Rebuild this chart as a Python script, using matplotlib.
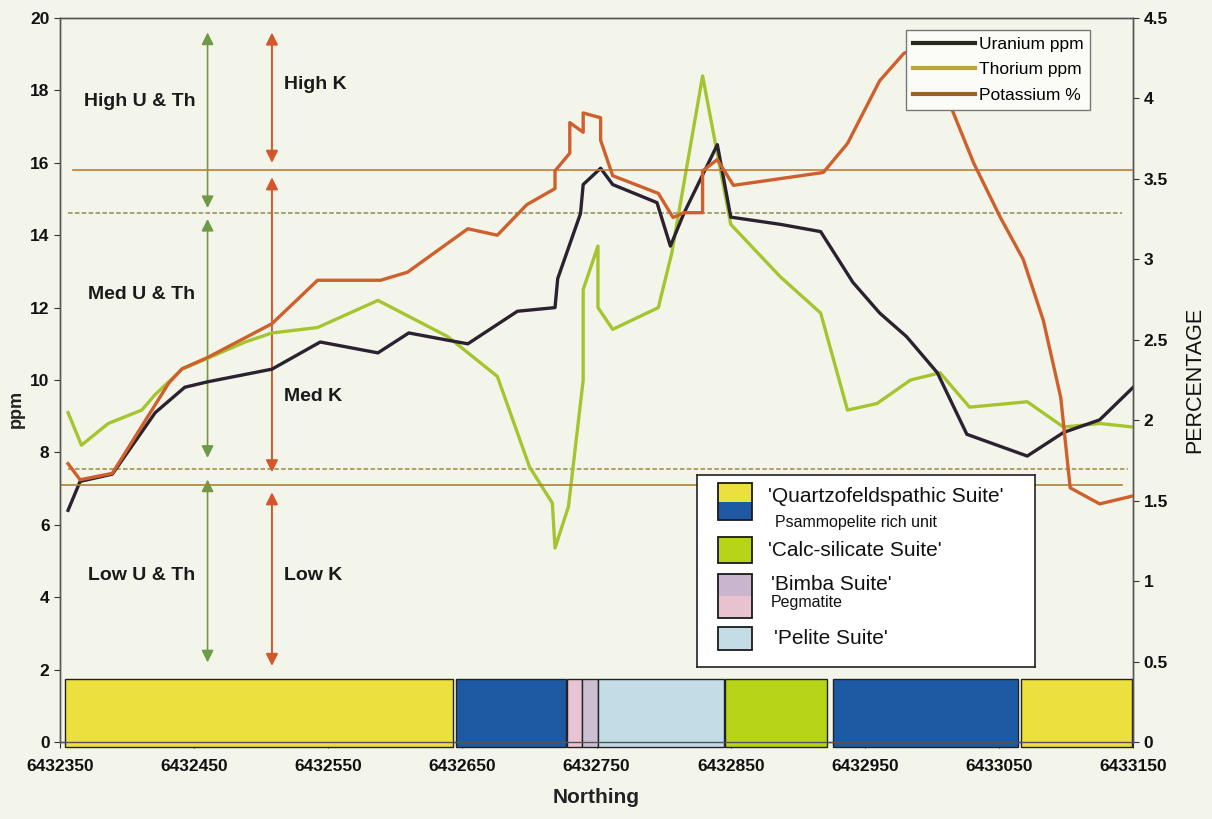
import matplotlib
matplotlib.use('Agg')
import matplotlib.pyplot as plt
from matplotlib.patches import Rectangle
from matplotlib.lines import Line2D

# --- data ---
u_north = [6432356, 6432365, 6432389, 6432421, 6432443, 6432460, 6432508, 6432544,
           6432587, 6432610, 6432639, 6432654, 6432691, 6432719, 6432721, 6432738,
           6432740, 6432753, 6432762, 6432795, 6432805, 6432815, 6432840, 6432850,
           6432887, 6432917, 6432941, 6432961, 6432981, 6433004, 6433026, 6433071,
           6433098, 6433125, 6433150]
u_ppm = [6.4, 7.2, 7.4, 9.1, 9.8, 9.95, 10.3, 11.05,
         10.75, 11.3, 11.1, 11.0, 11.9, 12.0, 12.8, 14.6,
         15.4, 15.85, 15.4, 14.9, 13.7, 14.6, 16.5, 14.5,
         14.3, 14.1, 12.7, 11.85, 11.2, 10.2, 8.5, 7.9,
         8.55, 8.9, 9.8]

th_north = [6432356, 6432366, 6432386, 6432411, 6432421, 6432441, 6432460, 6432488,
            6432508, 6432542, 6432587, 6432639, 6432676, 6432700, 6432717, 6432719,
            6432729, 6432740, 6432740, 6432751, 6432751, 6432762, 6432796, 6432806,
            6432829, 6432850, 6432887, 6432917, 6432937, 6432959, 6432984, 6433006,
            6433028, 6433071, 6433098, 6433125, 6433150]
th_ppm = [9.1, 8.2, 8.8, 9.17, 9.6, 10.3, 10.6, 11.05,
          11.3, 11.45, 12.2, 11.2, 10.1, 7.6, 6.6, 5.36,
          6.5, 10.0, 12.5, 13.7, 12.0, 11.4, 12.0, 13.5,
          18.4, 14.3, 12.85, 11.85, 9.17, 9.35, 10.0, 10.2,
          9.25, 9.4, 8.7, 8.8, 8.7]

k_north = [6432356, 6432365, 6432389, 6432431, 6432441, 6432460, 6432508, 6432542,
           6432589, 6432609, 6432654, 6432676, 6432698, 6432719, 6432719, 6432730,
           6432730, 6432740, 6432740, 6432753, 6432753, 6432762, 6432796, 6432807,
           6432815, 6432829, 6432829, 6432840, 6432852, 6432919, 6432937, 6432961,
           6432979, 6432992, 6433014, 6433031, 6433051, 6433068, 6433083, 6433096,
           6433103, 6433125, 6433150]
k_pct = [1.73, 1.63, 1.67, 2.23, 2.32, 2.39, 2.6, 2.87,
         2.87, 2.92, 3.19, 3.15, 3.34, 3.44, 3.55, 3.66,
         3.85, 3.79, 3.91, 3.88, 3.74, 3.52, 3.41, 3.26,
         3.29, 3.29, 3.55, 3.62, 3.46, 3.54, 3.72, 4.11,
         4.28, 4.33, 3.95, 3.6, 3.26, 3.0, 2.62, 2.14,
         1.58, 1.48, 1.53]

# classification thresholds
uth_high, uth_low = 14.6, 7.55     # ppm
k_high, k_low = 3.555, 1.6         # %

# geology strip along the traverse
strip_start = [6432354, 6432645, 6432728, 6432739, 6432751, 6432846, 6432926, 6433066]
strip_end = [6432643, 6432727, 6432739, 6432751, 6432845, 6432922, 6433064, 6433149]
strip_unit = ['quartz', 'psammo', 'pegmatite', 'bimba', 'pelite', 'calc', 'psammo', 'quartz']

unit_colors = {'quartz': '#ECE03E', 'psammo': '#1E5AA3', 'pegmatite': '#E9C3D3',
               'bimba': '#CDBFD2', 'pelite': '#C3DCE6', 'calc': '#B7D418'}

x_ticks = list(range(6432350, 6433151, 100))

bg = '#F4F5EA'
plt.rcParams['font.family'] = ['Liberation Sans', 'DejaVu Sans']

fig = plt.figure(figsize=(12.12, 8.19), dpi=100, facecolor=bg)
ax = fig.add_axes([0.0495, 0.094, 0.8855, 0.884], facecolor=bg)
ax2 = ax.twinx()

ax.set_xlim(6432350, 6433150)
ax.set_ylim(0, 20)
ax2.set_ylim(0, 4.5)

# threshold lines
ax.axhline(uth_high, xmin=0.007, xmax=0.99, color='#8F8A55', lw=1.1, ls=(0, (3, 1.5)))
ax.axhline(uth_low, xmin=0.007, xmax=0.995, color='#9A8A45', lw=1.1, ls=(0, (3, 1.5)))
ax2.axhline(k_high, xmin=0.012, xmax=1.0, color='#C87A2A', lw=1.2)
ax2.axhline(k_low, xmin=0.0, xmax=0.99, color='#A8862E', lw=1.2)

# class arrows
g_col = '#6E9A48'
r_col = '#D4572B'
x_g, x_r = 6432460, 6432508
for y0, y1 in [(14.75, 19.6), (7.85, 14.45), (2.2, 7.25)]:
    ax.annotate('', xy=(x_g, y1), xytext=(x_g, y0),
                arrowprops=dict(arrowstyle='<|-|>', color=g_col, lw=1.2,
                                mutation_scale=18, shrinkA=0, shrinkB=0))
for y0, y1 in [(16.0, 19.6), (7.45, 15.6), (2.1, 6.9)]:
    ax.annotate('', xy=(x_r, y1), xytext=(x_r, y0),
                arrowprops=dict(arrowstyle='<|-|>', color=r_col, lw=1.4,
                                mutation_scale=18, shrinkA=0, shrinkB=0))

tkw = dict(fontsize=14, fontweight='bold', color='#1A1A1A', va='center')
ax.text(6432368, 17.7, 'High U & Th', **tkw)
ax.text(6432371, 12.35, 'Med U & Th', **tkw)
ax.text(6432371, 4.6, 'Low U & Th', **tkw)
ax.text(6432517, 18.15, 'High K', **tkw)
ax.text(6432517, 9.55, 'Med K', **tkw)
ax.text(6432517, 4.6, 'Low K', **tkw)

# data lines
ax.plot(th_north, th_ppm, color='#A4C530', lw=2.4, zorder=4)
ax2.plot(k_north, k_pct, color='#CF5F2C', lw=2.4, zorder=4)
ax.plot(u_north, u_ppm, color='#2B2130', lw=2.4, zorder=5)

# geology strip
for s, e, unit in zip(strip_start, strip_end, strip_unit):
    ax.add_patch(Rectangle((s, -0.15), e - s, 1.9, facecolor=unit_colors[unit],
                           edgecolor='#222222', lw=1.0, zorder=6, clip_on=False))

# axes styling
ax.set_xticks(x_ticks)
ax.set_xticklabels([str(v) for v in x_ticks])
ax.set_yticks(range(0, 21, 2))
ax2.set_yticks([0, 0.5, 1, 1.5, 2, 2.5, 3, 3.5, 4, 4.5])
ax2.set_yticklabels(['0', '0.5', '1', '1.5', '2', '2.5', '3', '3.5', '4', '4.5'])
for a in (ax, ax2):
    a.tick_params(labelsize=12.5, width=0.8, length=4, colors='#333333', labelcolor='#111111')
    for lab in a.get_xticklabels() + a.get_yticklabels():
        lab.set_fontweight('bold')
    for sp in a.spines.values():
        sp.set_color('#555555')
        sp.set_linewidth(1.0)
ax.tick_params(axis='x', pad=8)

ax.set_xlabel('Northing', fontsize=15, fontweight='bold', color='#222222', labelpad=10)
ax.set_ylabel('ppm', fontsize=13, fontweight='bold', color='#222222')
ax.yaxis.set_label_coords(-0.033, 0.46)
ax2.set_ylabel('PERCENTAGE', fontsize=15.5, color='#111111', labelpad=12)

# element legend
handles = [Line2D([], [], color='#2A2A1C', lw=3),
           Line2D([], [], color='#B9A735', lw=3),
           Line2D([], [], color='#98621F', lw=3)]
leg = ax2.legend(handles, ['Uranium ppm', 'Thorium ppm', 'Potassium %'],
                 loc='upper right', bbox_to_anchor=(0.96, 0.984), fontsize=12.5,
                 handlelength=3.6, handletextpad=0.2, labelspacing=0.6,
                 borderpad=0.4, borderaxespad=0, fancybox=False, framealpha=1,
                 facecolor='#FBFBF8', edgecolor='#777777')
leg.set_zorder(20)

# suite legend box
lax = fig.add_axes([697 / 1212, 1 - 667 / 819, 338 / 1212, 192 / 819], facecolor='white', zorder=30)
lax.set_xlim(0, 338)
lax.set_ylim(192, 0)
lax.set_xticks([])
lax.set_yticks([])
for sp in lax.spines.values():
    sp.set_color('#222222')
    sp.set_linewidth(1.2)

def swatch(y_top, h, colors):
    n = len(colors)
    for i, c in enumerate(colors):
        lax.add_patch(Rectangle((21, y_top + i * h / n), 34, h / n, facecolor=c, edgecolor='none'))
    lax.add_patch(Rectangle((21, y_top), 34, h, facecolor='none', edgecolor='#1A1A1A', lw=1.3))

swatch(8, 37, [unit_colors['quartz'], unit_colors['psammo']])
swatch(62, 26, [unit_colors['calc']])
swatch(99, 44, ['#C9B6CE', '#E8C2CE'])
swatch(152, 23, [unit_colors['pelite']])

big = dict(fontsize=15, va='center', color='#111111')
small = dict(fontsize=11.5, va='center', color='#111111')
lax.text(71, 22, "'Quartzofeldspathic Suite'", **big)
lax.text(78, 47, 'Psammopelite rich unit', **small)
lax.text(71, 75, "'Calc-silicate Suite'", **big)
lax.text(74, 110, "'Bimba Suite'", **big)
lax.text(74, 128, 'Pegmatite', **small)
lax.text(77, 164, "'Pelite Suite'", **big)

fig.savefig('out.png', dpi=100, facecolor=bg)
